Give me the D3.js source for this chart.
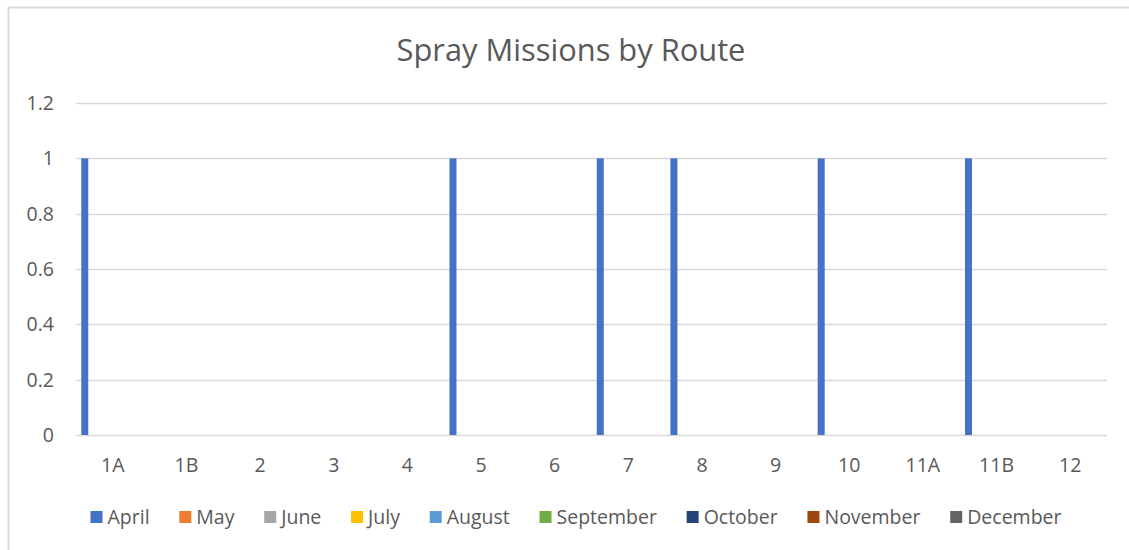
<!DOCTYPE html>
<html>
<head>
<meta charset="utf-8">
<script src="https://cdn.jsdelivr.net/npm/d3@7"></script>
<style>
  html, body { margin: 0; padding: 0; background: #fff; }
  svg { display: block; font-family: "Open Sans", "Noto Sans", sans-serif; }
</style>
</head>
<body>
<svg id="chart" width="1129" height="550"></svg>
<script>
// Spray missions per route, one series per month (Excel-style clustered columns)
const routes = ['1A', '1B', '2', '3', '4', '5', '6', '7', '8', '9', '10', '11A', '11B', '12'];
const months = ['April', 'May', 'June', 'July', 'August', 'September', 'October', 'November', 'December'];

const april     = [1, 0, 0, 0, 0, 1, 0, 1, 1, 0, 1, 0, 1, 0];
const may       = [0, 0, 0, 0, 0, 0, 0, 0, 0, 0, 0, 0, 0, 0];
const june      = [0, 0, 0, 0, 0, 0, 0, 0, 0, 0, 0, 0, 0, 0];
const july      = [0, 0, 0, 0, 0, 0, 0, 0, 0, 0, 0, 0, 0, 0];
const august    = [0, 0, 0, 0, 0, 0, 0, 0, 0, 0, 0, 0, 0, 0];
const september = [0, 0, 0, 0, 0, 0, 0, 0, 0, 0, 0, 0, 0, 0];
const october   = [0, 0, 0, 0, 0, 0, 0, 0, 0, 0, 0, 0, 0, 0];
const november  = [0, 0, 0, 0, 0, 0, 0, 0, 0, 0, 0, 0, 0, 0];
const december  = [0, 0, 0, 0, 0, 0, 0, 0, 0, 0, 0, 0, 0, 0];

const yTicks = [0, 0.2, 0.4, 0.6, 0.8, 1, 1.2];

const seriesValues = [april, may, june, july, august, september, october, november, december];
const colors = ['#4472C4', '#ED7D31', '#A5A5A5', '#FFC000', '#5B9BD5', '#70AD47', '#264478', '#9E480E', '#636363'];

const svg = d3.select('#chart');
const textColor = '#595959';
const gridColor = '#d9d9d9';
const labelSize = 19.5;

// chart frame (image is cropped: only left/top edges visible)
svg.append('rect')
  .attr('x', 8.5).attr('y', 7.5)
  .attr('width', 1140).attr('height', 560)
  .attr('fill', '#fff')
  .attr('stroke', gridColor)
  .attr('stroke-width', 2);

const plot = { left: 76, right: 1107, top: 103, bottom: 435 };

const x = d3.scaleBand()
  .domain(routes)
  .range([plot.left, plot.right])
  .padding(0);

// Excel gap width 150%: the gap is 1.5 bar widths split on both sides
const barW = x.bandwidth() / (months.length + 1.5);
const xSub = d3.scaleBand()
  .domain(months)
  .range([barW * 0.75, x.bandwidth() - barW * 0.75])
  .padding(0);

const y = d3.scaleLinear()
  .domain([0, 1.2])
  .range([plot.bottom, plot.top]);

// gridlines
svg.append('g')
  .selectAll('line')
  .data(yTicks)
  .join('line')
    .attr('x1', plot.left).attr('x2', plot.right)
    .attr('y1', d => Math.round(y(d)) + 0.5)
    .attr('y2', d => Math.round(y(d)) + 0.5)
    .attr('stroke', gridColor)
    .attr('stroke-width', 1.5);

// y tick labels
svg.append('g')
  .selectAll('text')
  .data(yTicks)
  .join('text')
    .attr('x', 54)
    .attr('y', d => y(d))
    .attr('dy', '0.36em')
    .attr('text-anchor', 'end')
    .attr('fill', textColor)
    .attr('font-size', labelSize)
    .text(d => d3.format('~g')(d));

// bars
const data = [];
routes.forEach((r, i) => {
  months.forEach((m, j) => {
    data.push({ route: r, month: m, value: seriesValues[j][i], color: colors[j] });
  });
});

svg.append('g')
  .selectAll('rect')
  .data(data.filter(d => d.value > 0))
  .join('rect')
    .attr('x', d => x(d.route) + xSub(d.month))
    .attr('width', xSub.bandwidth())
    .attr('y', d => y(d.value))
    .attr('height', d => y(0) - y(d.value))
    .attr('fill', d => d.color);

// x axis labels
svg.append('g')
  .selectAll('text')
  .data(routes)
  .join('text')
    .attr('x', d => x(d) + x.bandwidth() / 2)
    .attr('y', 472)
    .attr('text-anchor', 'middle')
    .attr('fill', textColor)
    .attr('font-size', labelSize)
    .text(d => d);

// title, sized to match the reference width
const title = svg.append('text')
  .attr('x', 571)
  .attr('y', 61)
  .attr('text-anchor', 'middle')
  .attr('fill', textColor)
  .attr('font-size', 28)
  .text('Spray Missions by Route');
const tw = title.node().getComputedTextLength();
title.attr('font-size', 28 * 349 / tw);

// legend: items spread to span roughly x 91..1062 like the reference
const legend = svg.append('g');
const sq = 12, sqGap = 5, legendSpan = 971;
const items = months.map((m, j) => {
  const item = legend.append('g');
  item.append('rect')
    .attr('x', 0).attr('y', -13)
    .attr('width', sq).attr('height', sq)
    .attr('fill', colors[j]);
  const t = item.append('text')
    .attr('x', sq + sqGap)
    .attr('y', 0)
    .attr('fill', textColor)
    .attr('font-size', labelSize)
    .text(m);
  return { item, w: sq + sqGap + t.node().getComputedTextLength() };
});
const itemGap = (legendSpan - d3.sum(items, d => d.w)) / (items.length - 1);
let lx = 0;
items.forEach(d => {
  d.item.attr('transform', `translate(${lx},0)`);
  lx += d.w + itemGap;
});
legend.attr('transform', `translate(${576 - legendSpan / 2},524)`);
</script>
</body>
</html>
